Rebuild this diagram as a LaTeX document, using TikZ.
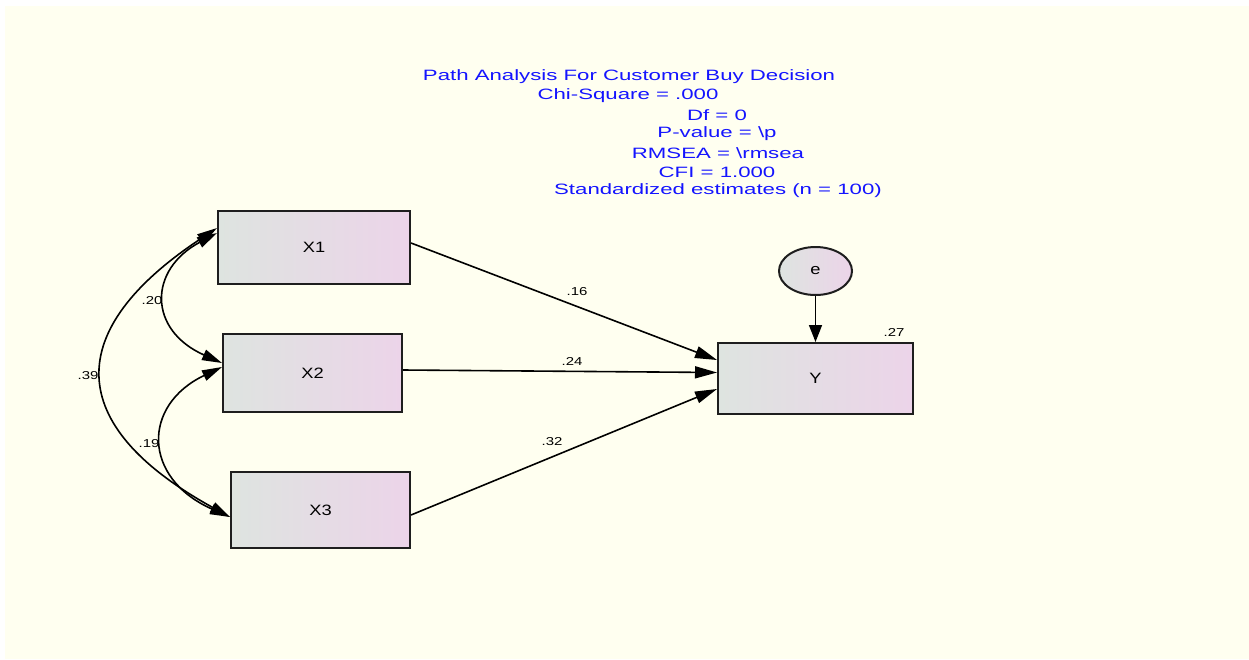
\documentclass[tikz,border=0pt]{standalone}
\usepackage{fontspec}
\setmainfont{Liberation Sans}
\newfontfamily\titlefont[FakeStretch=1.48]{Liberation Sans}
\newfontfamily\varfont[FakeStretch=1.22]{Liberation Sans}
\newfontfamily\coeffont[FakeStretch=1.3]{Liberation Sans}
\usetikzlibrary{arrows.meta,shapes.geometric}

\definecolor{paper}{RGB}{255,255,240}
\definecolor{boxleft}{RGB}{222,228,224}
\definecolor{boxright}{RGB}{236,212,233}
\definecolor{boxline}{RGB}{30,30,30}
\definecolor{titleblue}{RGB}{20,20,255}

\tikzset{
  observed/.style={draw=boxline, line width=2pt, left color=boxleft, right color=boxright,
    inner sep=0pt, font=\varfont\fontsize{15}{17}\selectfont},
  errorterm/.style={ellipse, draw=boxline, line width=2pt, left color=boxleft, right color=boxright,
    inner sep=0pt, font=\varfont\fontsize{15}{17}\selectfont},
  path/.style={line width=1.6pt, -{Triangle[length=22pt,width=12pt]}},
  vpath/.style={line width=1.6pt, -{Triangle[length=17pt,width=13pt]}},
  covpath/.style={line width=1.6pt, {Triangle[length=20pt,width=11pt]}-{Triangle[length=20pt,width=11pt]}},
  coef/.style={font=\coeffont\fontsize{11.5}{13}\selectfont, inner sep=0pt},
  heading/.style={text=titleblue, font=\titlefont\fontsize{15}{17}\selectfont, inner sep=0pt}
}

\begin{document}
\begin{tikzpicture}[x=1pt,y=-1pt]
  \useasboundingbox (0,0) rectangle (1249,659);
  \fill[white] (0,0) rectangle (1249,659);
  \fill[paper] (5,6) rectangle (1249,659);

  % model summary
  \node[heading] (t1) at (629,77)  {Path Analysis For Customer Buy Decision};
  \node[heading] (t2) at (628,96)  {Chi-Square = .000};
  \node[heading] (t3) at (717,115) {Df = 0};
  \node[heading] (t4) at (717,134) {P-value = \textbackslash p};
  \node[heading] (t5) at (718,153) {RMSEA = \textbackslash rmsea};
  \node[heading] (t6) at (717,172) {CFI = 1.000};
  \node[heading] (t7) at (718,191) {Standardized estimates (n = 100)};

  % observed variables
  \node[observed, minimum width=192pt, minimum height=73pt] (X1) at (314,247.5) {X1};
  \node[observed, minimum width=179pt, minimum height=78pt] (X2) at (312.5,373) {X2};
  \node[observed, minimum width=179pt, minimum height=76pt] (X3) at (320.5,510) {X3};
  \node[observed, minimum width=195pt, minimum height=71pt] (Y)  at (815.5,378.5) {Y};
  \node[errorterm, minimum width=73pt, minimum height=48pt] (e) at (815.5,271) {e};

  % regression paths
  \draw[path] ([yshift=4.5pt]X1.east) -- ([yshift=18.5pt]Y.west);
  \draw[path] ([yshift=3pt]X2.east) -- ([yshift=6pt]Y.west);
  \draw[path] ([yshift=-5pt]X3.east) -- ([yshift=-10.5pt]Y.west);
  \draw[vpath] (e.south) -- (Y.north);

  % covariances among predictors
  \draw[covpath] ([yshift=19.5pt]X1.west) .. controls (63,330) and (63,425) .. ([yshift=-7pt]X3.west);
  \draw[covpath] ([yshift=14.5pt]X1.west) .. controls (148,270) and (148,330) .. ([yshift=10pt]X2.west);
  \draw[covpath] ([yshift=6pt]X2.west) .. controls (142,405) and (142,478) .. ([yshift=-7pt]X3.west);

  % standardized estimates
  \node[coef] (c16) at (577,292) {.16};
  \node[coef] (c24) at (572,361) {.24};
  \node[coef] (c32) at (552,442) {.32};
  \node[coef] (c27) at (894,332) {.27};
  \node[coef] (c20) at (152,301) {.20};
  \node[coef] (c39) at (88,376)  {.39};
  \node[coef] (c19) at (149,444) {.19};
\end{tikzpicture}
\end{document}
